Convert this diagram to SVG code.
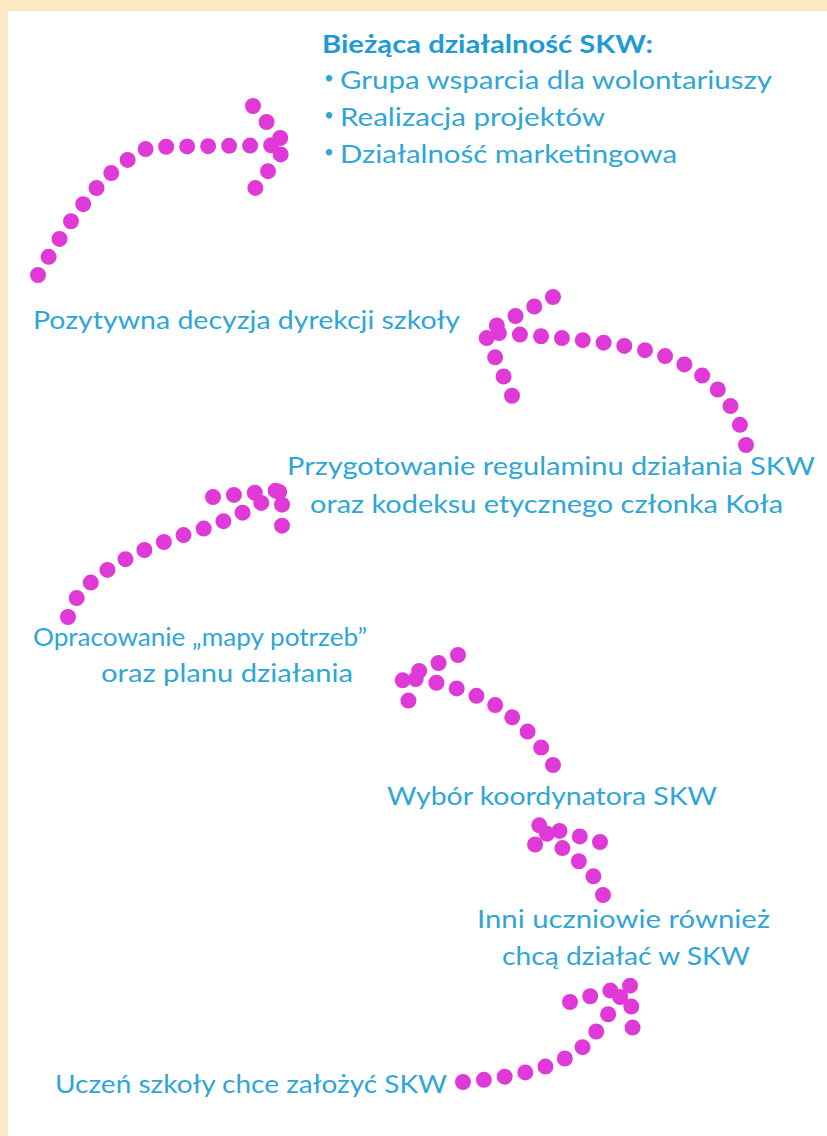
<svg xmlns="http://www.w3.org/2000/svg" width="827" height="1136" viewBox="0 0 827 1136">
<style>
.lbl{font-family:Lato,"Open Sans","Liberation Sans",sans-serif;font-size:25px;fill:#2ea6d6}
.blt{font-family:Lato,"Open Sans","Liberation Sans",sans-serif;font-size:17px;fill:#2ea6d6}
.ttl{font-family:Lato,"Open Sans","Liberation Sans",sans-serif;font-size:25px;font-weight:bold;fill:#1f9ad4}
.dot{fill:none;stroke:#df3ad8;stroke-width:16;stroke-linecap:round;stroke-linejoin:round;stroke-dasharray:0 21}
</style>
<rect x="0" y="0" width="827" height="1136" fill="#fbe9c4"/>
<rect x="8" y="11" width="819" height="1125" fill="#ffffff"/>
<g id="connectors">
  <g id="c1"><path class="dot" d="M38,275 C70,220 100,170 150,147 L287,145"/><path class="dot" d="M253,106 L287,146 L250,195"/></g>
  <g id="c2"><path class="dot" d="M746,445 C735,395 700,362 640,349 C600,340 540,336 484,332"/><path class="dot" d="M553,297 L484,332 L513,398"/></g>
  <g id="c3"><path class="dot" d="M68,617 C75,585 120,555 190,533 C230,521 260,505 282,490"/><path class="dot" d="M213,497 L282,490 L282,533"/></g>
  <g id="c4"><path class="dot" d="M553,765 C535,735 510,712 486,700 C460,688 430,679 402,678"/><path class="dot" d="M458,655 L402,678 L414,720"/></g>
  <g id="c5"><path class="dot" d="M603,895 C595,872 580,862 567,852 C555,842 545,832 538,825"/><path class="dot" d="M600,842 L538,825 L532,865"/></g>
  <g id="c6"><path class="dot" d="M463,1082 C510,1078 560,1068 585,1045 C600,1030 612,1005 630,985"/><path class="dot" d="M570,1002 L630,985 L633,1035"/></g>
</g>
<g id="n-biezaca">
  <text class="ttl" x="322" y="53" textLength="331" lengthAdjust="spacingAndGlyphs">Bieżąca działalność SKW:</text>
  <text class="blt" x="324" y="84">•</text>
  <text class="lbl" x="340" y="89" textLength="432" lengthAdjust="spacingAndGlyphs">Grupa wsparcia dla wolontariuszy</text>
  <text class="blt" x="324" y="121">•</text>
  <text class="lbl" x="340" y="126" textLength="265" lengthAdjust="spacingAndGlyphs">Realizacja projektów</text>
  <text class="blt" x="324" y="158">•</text>
  <text class="lbl" x="340" y="163" textLength="337" lengthAdjust="spacingAndGlyphs">Działalność marketingowa</text>
</g>
<g id="n-pozytywna">
  <text class="lbl" x="33" y="329" textLength="427" lengthAdjust="spacingAndGlyphs">Pozytywna decyzja dyrekcji szkoły</text>
</g>
<g id="n-przygotowanie">
  <text class="lbl" x="287" y="475" textLength="528" lengthAdjust="spacingAndGlyphs">Przygotowanie regulaminu działania SKW</text>
  <text class="lbl" x="310" y="513" textLength="473" lengthAdjust="spacingAndGlyphs">oraz kodeksu etycznego członka Koła</text>
</g>
<g id="n-opracowanie">
  <text class="lbl" x="33" y="646" textLength="334" lengthAdjust="spacingAndGlyphs">Opracowanie „mapy potrzeb”</text>
  <text class="lbl" x="101" y="682" textLength="252" lengthAdjust="spacingAndGlyphs">oraz planu działania</text>
</g>
<g id="n-wybor">
  <text class="lbl" x="387" y="805" textLength="330" lengthAdjust="spacingAndGlyphs">Wybór koordynatora SKW</text>
</g>
<g id="n-inni">
  <text class="lbl" x="477" y="928" textLength="293" lengthAdjust="spacingAndGlyphs">Inni uczniowie również</text>
  <text class="lbl" x="502" y="965" textLength="248" lengthAdjust="spacingAndGlyphs">chcą działać w SKW</text>
</g>
<g id="n-uczen">
  <text class="lbl" x="55" y="1093" textLength="392" lengthAdjust="spacingAndGlyphs">Uczeń szkoły chce założyć SKW</text>
</g>
</svg>
